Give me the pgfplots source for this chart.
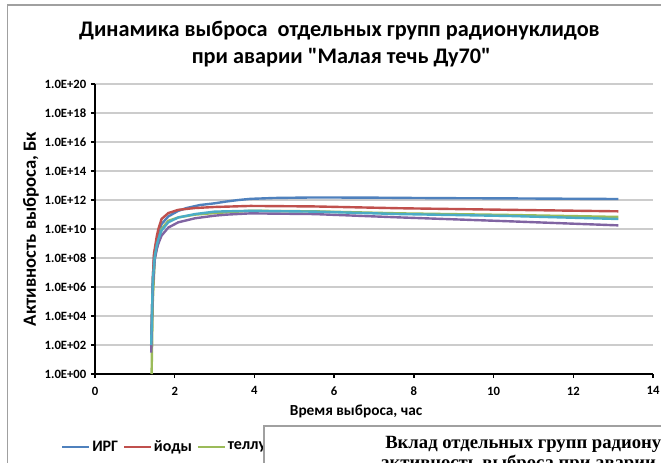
\documentclass[border=0pt]{standalone}
\usepackage{fontspec}
\setmainfont{Carlito}
\newfontfamily\serifb{Liberation Serif}
\usepackage{pgfplots}
\pgfplotsset{compat=1.18}
\definecolor{cB}{HTML}{4F81BD}
\definecolor{cR}{HTML}{C0504D}
\definecolor{cG}{HTML}{9BBB59}
\definecolor{cP}{HTML}{8064A2}
\definecolor{cC}{HTML}{4BACC6}
\definecolor{frame}{HTML}{A0A0A0}
\definecolor{gridc}{HTML}{CCCCCC}
\newcommand{\sq}{{\XeTeXglyph\XeTeXcharglyph"0022\relax}}
\begin{document}
\begin{tikzpicture}
\useasboundingbox (0,0) rectangle (495.75pt,346.5pt);
\clip (0,0) rectangle (495.75pt,346.5pt);
\fill[white] (0,0) rectangle (495.75pt,346.5pt);
\draw[frame, line width=0.9pt] (5.6pt,-10pt) -- (5.6pt,342.75pt) -- (520pt,342.75pt);
\node[anchor=base, font=\bfseries\fontsize{16.7}{20}\selectfont] at (254.5pt,319pt)
  {Динамика выброса\ \ отдельных групп радионуклидов};
\node[anchor=base, font=\bfseries\fontsize{16.7}{20}\selectfont] at (256pt,299pt)
  {при аварии \sq Малая течь Ду70\sq};
\begin{axis}[
  scale only axis, width=418.5pt, height=217.5pt,
  at={(71.25pt,66pt)}, anchor=south west,
  ymode=log, xmin=0, xmax=14, ymin=1, ymax=1e20,
  axis x line*=bottom, axis y line*=left,
  axis line style={black, line width=1.4pt, -},
  tick style={black, line width=1.1pt},
  tick align=outside, major tick length=3pt,
  minor tick num=0,
  xtick={0,2,4,6,8,10,12,14},
  ytick={1,1e2,1e4,1e6,1e8,1e10,1e12,1e14,1e16,1e18,1e20},
  yticklabels={1.0E+00,1.0E+02,1.0E+04,1.0E+06,1.0E+08,1.0E+10,1.0E+12,1.0E+14,1.0E+16,1.0E+18,1.0E+20},
  /pgf/number format/assume math mode=true,
  ticklabel style={font=\bfseries\fontsize{9.5}{11}\selectfont},
  xticklabel style={yshift=-3pt},
  ymajorgrids, grid style={gridc, line width=1pt},
  xlabel={Время выброса, час},
  ylabel={Активность выброса, Бк},
  every axis x label/.style={at={(axis description cs:0.468,0)}, yshift=-28pt, anchor=center, font=\bfseries\fontsize{11.5}{13}\selectfont},
  every axis y label/.style={at={(axis description cs:0,0.5)}, xshift=-48pt, rotate=90, anchor=center, font=\bfseries\fontsize{14}{16}\selectfont},
  legend columns=5,
  legend style={at={(axis description cs:-0.061,-0.2517)}, anchor=west, draw=none, fill=none, inner sep=0pt, font=\bfseries\fontsize{12}{14}\selectfont,
    /tikz/every even column/.append style={column sep=2pt},
    nodes={inner xsep=1.5pt}},
  legend image code/.code={\draw[#1, line width=1.8pt] (0pt,0pt) -- (20pt,0pt);},
  every axis plot/.append style={line width=1.8pt, no markers},
  clip=false,
]
\addplot[cB] coordinates {(1.41,8e1) (1.45,3.2e6) (1.48,1.3e8) (1.55,1.6e9) (1.59,3.5e9) (1.67,2.2e10) (1.84,7.4e10) (2.09,1.8e11) (2.3,2.8e11) (2.63,4.5e11) (3.0,5.9e11) (3.3,7.9e11) (3.6,1.0e12) (3.9,1.2e12) (4.5,1.38e12) (5.5,1.5e12) (7.0,1.45e12) (8.5,1.35e12) (10.4,1.29e12) (13.13,1.17e12)};
\addplot[cR] coordinates {(1.41,1e2) (1.45,3.2e6) (1.48,2e8) (1.55,3.2e9) (1.59,1e10) (1.67,4.9e10) (1.84,1.26e11) (2.09,2.1e11) (2.51,2.8e11) (3.0,3.3e11) (3.9,3.9e11) (5.5,3.6e11) (7.65,2.7e11) (10.4,2.1e11) (13.13,1.66e11)};
\addplot[cG] coordinates {(1.42,1) (1.45,1e5) (1.5,1e8) (1.55,5e8) (1.59,1.2e9) (1.67,1e10) (1.84,3.7e10) (2.09,6.3e10) (2.51,9.8e10) (3.0,1.26e11) (3.3,1.41e11) (3.9,1.8e11) (5.5,1.66e11) (7.65,1.2e11) (10.4,9.3e10) (13.13,6.8e10)};
\addplot[cP] coordinates {(1.41,3e1) (1.45,1e6) (1.5,7.9e7) (1.55,4e8) (1.59,1e9) (1.67,3.5e9) (1.84,1.26e10) (2.09,2.9e10) (2.51,5.5e10) (3.0,8.3e10) (3.3,9.8e10) (3.9,1.2e11) (5.5,1.07e11) (7.65,6.3e10) (10.4,3.4e10) (13.13,1.78e10)};
\addplot[cC] coordinates {(1.41,1e2) (1.45,3.2e6) (1.5,1.26e8) (1.55,7.9e8) (1.59,2e9) (1.67,7.9e9) (1.84,2.9e10) (2.09,6.3e10) (2.51,1.07e11) (3.0,1.58e11) (3.3,1.66e11) (3.9,1.8e11) (5.5,1.58e11) (7.65,1.07e11) (10.4,7.9e10) (13.13,4.9e10)};
\legend{ИРГ,йоды,теллур,цезий,прочие}
\end{axis}
\fill[white] (198pt,-20pt) rectangle (520pt,27pt);
\draw[frame, line width=0.8pt] (198pt,-20pt) -- (198pt,27pt) -- (520pt,27pt);
\node[anchor=base west, inner sep=0pt, font=\serifb\bfseries\fontsize{14}{16}\selectfont] at (288.75pt,10.5pt) {Вклад отдельных групп радионуклидов в суммарную};
\node[anchor=base west, inner sep=0pt, font=\serifb\bfseries\fontsize{14}{16}\selectfont] at (285pt,-4.5pt) {активность выброса при аварии};
\end{tikzpicture}
\end{document}
